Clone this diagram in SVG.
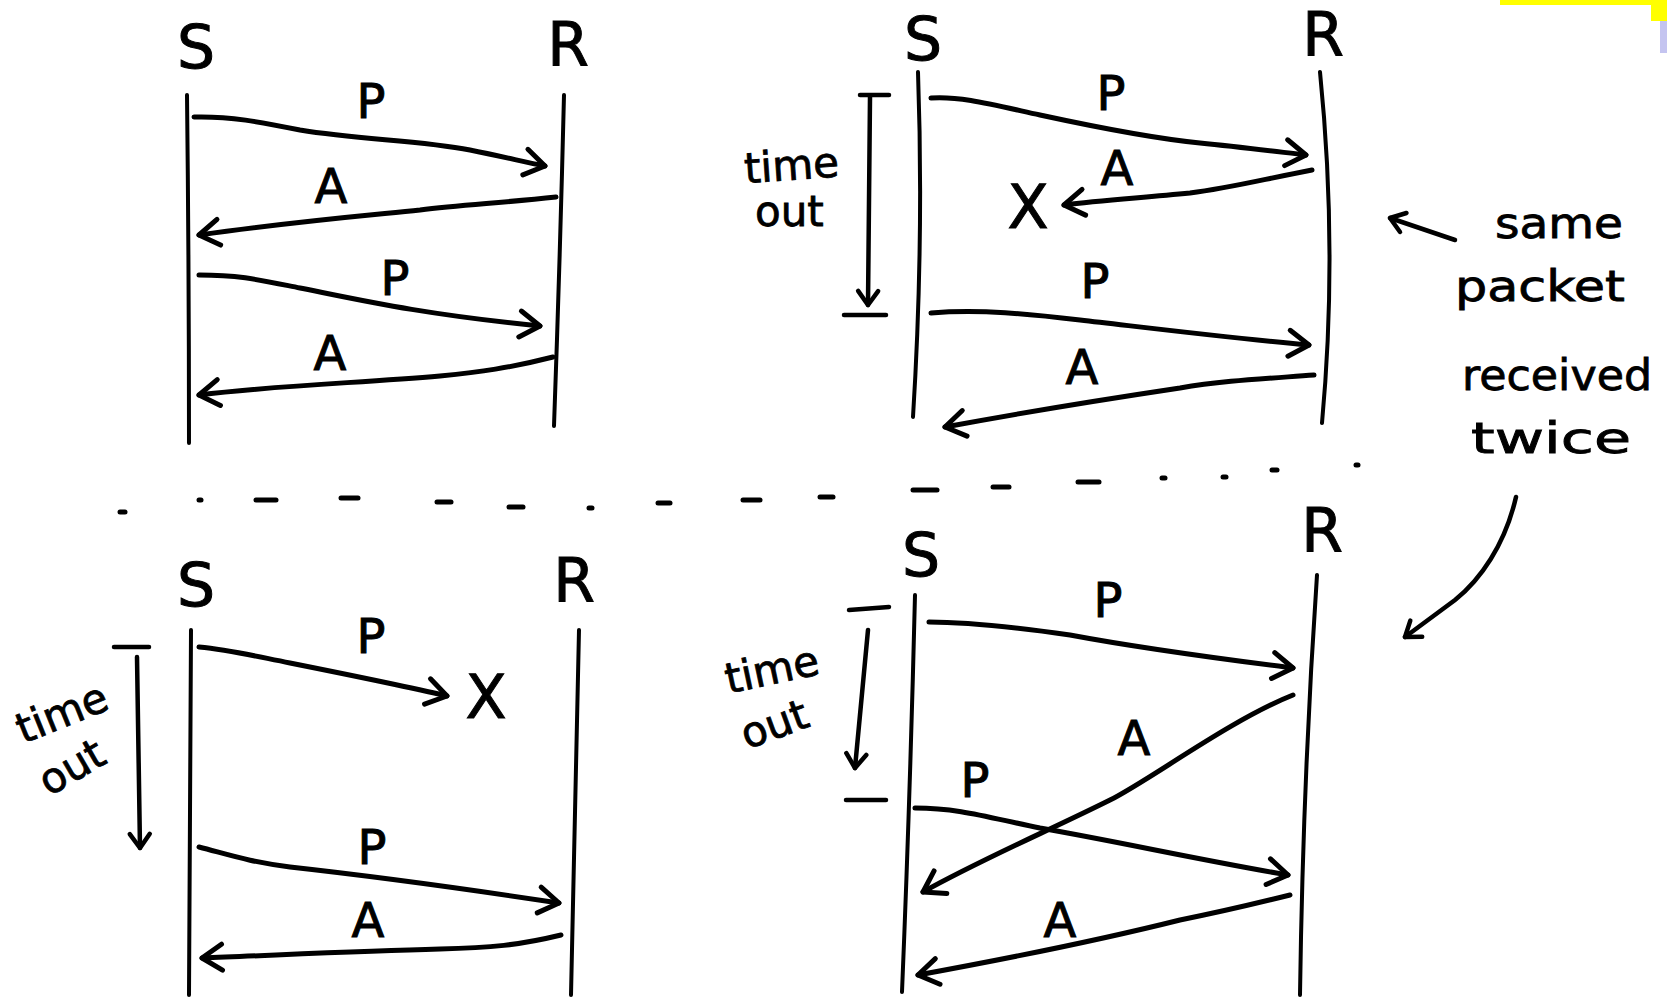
<svg xmlns="http://www.w3.org/2000/svg" width="1667" height="997" viewBox="0 0 1667 997">
<style>
.life{fill:none;stroke:#000;stroke-width:4;stroke-linecap:round}
.arr{fill:none;stroke:#000;stroke-width:5;stroke-linecap:round;stroke-linejoin:round}
.tick{fill:none;stroke:#000;stroke-width:4.5;stroke-linecap:round}
.dash{fill:none;stroke:#000;stroke-width:5;stroke-linecap:round}
.big{font-family:"DejaVu Sans",sans-serif;font-size:60px;text-anchor:middle;fill:#000;stroke:#000;stroke-width:1}
.lab{font-family:"DejaVu Sans",sans-serif;font-size:48px;text-anchor:middle;fill:#000;stroke:#000;stroke-width:1}
.note{font-family:"DejaVu Sans",sans-serif;font-size:42px;fill:#000;stroke:#000;stroke-width:0.8}
</style>
<defs>
<marker id="ah" viewBox="-25 -18 30 36" markerWidth="30" markerHeight="36" refX="0" refY="0" orient="auto" markerUnits="userSpaceOnUse" overflow="visible">
<path d="M-20,-13 L0,0 L-20,13" fill="none" stroke="#000" stroke-width="5" stroke-linecap="round" stroke-linejoin="round"/>
</marker>
<marker id="ahs" viewBox="-25 -18 30 36" markerWidth="30" markerHeight="36" refX="0" refY="0" orient="auto" markerUnits="userSpaceOnUse" overflow="visible">
<path d="M-14,-10 L0,0 L-14,10" fill="none" stroke="#000" stroke-width="4.5" stroke-linecap="round" stroke-linejoin="round"/>
</marker>
</defs>
<rect width="1667" height="997" fill="#fff"/>
<rect x="1500" y="0" width="167" height="5" fill="#ffff00"/>
<rect x="1651" y="0" width="16" height="21" fill="#ffff00"/>
<rect x="1660" y="21" width="7" height="32" fill="#c4c4f0"/>

<!-- Panel 1 -->
<g id="p1-sender"><text class="big" x="196" y="68">S</text><path class="life" d="M187,95 Q189,270 189,443"/></g>
<g id="p1-receiver"><text class="big" x="568" y="66">R</text><path class="life" d="M564,95 Q560,260 554,426"/></g>
<!-- Panel 2 -->
<g id="p2-sender"><text class="big" x="923" y="60">S</text><path class="life" d="M918,72 Q924,240 913,417"/></g>
<g id="p2-receiver"><text class="big" x="1323" y="56" font-size="56">R</text><path class="life" d="M1320,72 Q1338,250 1322,423"/></g>
<g id="p2-timeout">
<path class="tick" d="M860,95 L889,95"/>
<path class="tick" d="M870,97 L868,305" marker-end="url(#ahs)"/>
<path class="tick" d="M844,315 L886,315"/>
<text class="note" x="744" y="180" transform="rotate(-4 790 165)">time</text>
<text class="note" x="755" y="226">out</text>
</g>
<g id="p2-note">
<text class="note" x="1495" y="238" textLength="128" lengthAdjust="spacingAndGlyphs">same</text>
<text class="note" x="1455" y="301" textLength="170" lengthAdjust="spacingAndGlyphs">packet</text>
<text class="note" x="1462" y="390" textLength="190" lengthAdjust="spacingAndGlyphs">received</text>
<text class="note" x="1471" y="453" textLength="160" lengthAdjust="spacingAndGlyphs">twice</text>
</g>
<!-- Panel 3 -->
<g id="p3-sender"><text class="big" x="196" y="606">S</text><path class="life" d="M191,630 Q190,810 189,995"/></g>
<g id="p3-receiver"><text class="big" x="574" y="602">R</text><path class="life" d="M579,630 Q575,810 571,995"/></g>
<g id="p3-timeout">
<path class="tick" d="M114,647 L149,647"/>
<path class="tick" d="M137,657 L140,848" marker-end="url(#ahs)"/>
<text class="note" x="14" y="728" transform="rotate(-22 60 712)">time</text>
<text class="note" x="36" y="782" transform="rotate(-30 70 765)">out</text>
</g>
<!-- Panel 4 -->
<g id="p4-sender"><text class="big" x="921" y="576">S</text><path class="life" d="M915,595 Q910,800 902,992"/></g>
<g id="p4-receiver"><text class="big" x="1322" y="552">R</text><path class="life" d="M1317,575 Q1303,780 1300,995"/></g>
<g id="p4-timeout">
<path class="tick" d="M849,610 L889,607"/>
<path class="tick" d="M868,630 L855,768" marker-end="url(#ahs)"/>
<path class="tick" d="M846,800 L886,800"/>
<text class="note" x="724" y="684" transform="rotate(-12 772 668)">time</text>
<text class="note" x="740" y="738" transform="rotate(-20 776 724)">out</text>
</g>

<!-- divider -->
<g id="divider">
<path class="dash" d="M120,512 L125,512"/>
<path class="dash" d="M199,500 L201,500"/>
<path class="dash" d="M256,500 L276,500"/>
<path class="dash" d="M341,498 L358,498"/>
<path class="dash" d="M437,502 L451,502"/>
<path class="dash" d="M509,507 L523,507"/>
<path class="dash" d="M589,508 L592,508"/>
<path class="dash" d="M658,503 L670,503"/>
<path class="dash" d="M743,500 L760,500"/>
<path class="dash" d="M820,497 L833,497"/>
<path class="dash" d="M913,490 L937,490"/>
<path class="dash" d="M993,487 L1009,487"/>
<path class="dash" d="M1078,482 L1099,482"/>
<path class="dash" d="M1162,478 L1165,478"/>
<path class="dash" d="M1223,477 L1226,477"/>
<path class="dash" d="M1272,470 L1277,470"/>
<path class="dash" d="M1356,465 L1358,465"/>
</g>

<g id="connectors">
<!-- panel 1 -->
<path class="arr" d="M194,117 C230,116 260,122 300,130 C360,140 420,140 470,150 C500,156 525,162 545,166" marker-end="url(#ah)"/>
<path class="arr" d="M556,197 C500,203 460,205 420,210 C350,217 290,222 199,235" marker-end="url(#ah)"/>
<path class="arr" d="M199,275 C240,275 260,280 300,288 C360,300 420,314 540,326" marker-end="url(#ah)"/>
<path class="arr" d="M553,357 C510,368 480,372 440,376 C360,383 280,385 199,395" marker-end="url(#ah)"/>
<!-- panel 2 -->
<path class="arr" d="M931,98 C960,96 990,104 1040,115 C1100,128 1150,138 1200,143 C1240,147 1280,152 1306,155" marker-end="url(#ah)"/>
<path class="arr" d="M1312,170 C1260,180 1230,188 1190,193 C1140,198 1100,200 1064,205" marker-end="url(#ah)"/>
<path class="arr" d="M931,313 C980,309 1030,314 1080,320 C1150,328 1230,338 1309,345" marker-end="url(#ah)"/>
<path class="arr" d="M1314,375 C1260,379 1220,381 1180,388 C1100,400 1020,413 945,427" marker-end="url(#ah)"/>
<path class="tick" d="M1455,240 L1390,218" marker-end="url(#ahs)"/>
<path class="tick" d="M1516,497 C1505,545 1480,580 1455,600 L1405,637" marker-end="url(#ahs)"/>
<!-- panel 3 -->
<path class="arr" d="M199,647 C230,650 250,655 290,663 C350,675 400,685 447,696" marker-end="url(#ah)"/>
<path class="arr" d="M199,847 C230,855 250,862 290,867 C380,877 460,888 559,903" marker-end="url(#ah)"/>
<path class="arr" d="M561,935 C520,945 490,948 440,949 C360,951 280,955 202,958" marker-end="url(#ah)"/>
<!-- panel 4 -->
<path class="arr" d="M929,622 C970,622 1020,628 1070,635 C1150,650 1230,660 1293,668" marker-end="url(#ah)"/>
<path class="arr" d="M1293,695 C1230,720 1150,780 1110,800 C1050,830 980,860 923,892" marker-end="url(#ah)"/>
<path class="arr" d="M915,808 C960,808 990,818 1040,828 C1120,842 1200,860 1288,875" marker-end="url(#ah)"/>
<path class="arr" d="M1290,895 C1250,905 1220,912 1180,920 C1100,940 1000,960 918,975" marker-end="url(#ah)"/>
</g>

<g id="labels">
<text class="lab" x="371" y="118">P</text>
<text class="lab" x="331" y="203">A</text>
<text class="lab" x="395" y="295">P</text>
<text class="lab" x="330" y="370">A</text>
<text class="lab" x="1111" y="110">P</text>
<text class="lab" x="1117" y="185">A</text>
<text class="big" x="1028" y="228">X</text>
<text class="lab" x="1095" y="298">P</text>
<text class="lab" x="1082" y="384">A</text>
<text class="lab" x="371" y="653">P</text>
<text class="big" x="486" y="718" font-size="54">X</text>
<text class="lab" x="372" y="864">P</text>
<text class="lab" x="368" y="937">A</text>
<text class="lab" x="1108" y="617">P</text>
<text class="lab" x="1134" y="755">A</text>
<text class="lab" x="975" y="797">P</text>
<text class="lab" x="1060" y="937">A</text>
</g>
</svg>
